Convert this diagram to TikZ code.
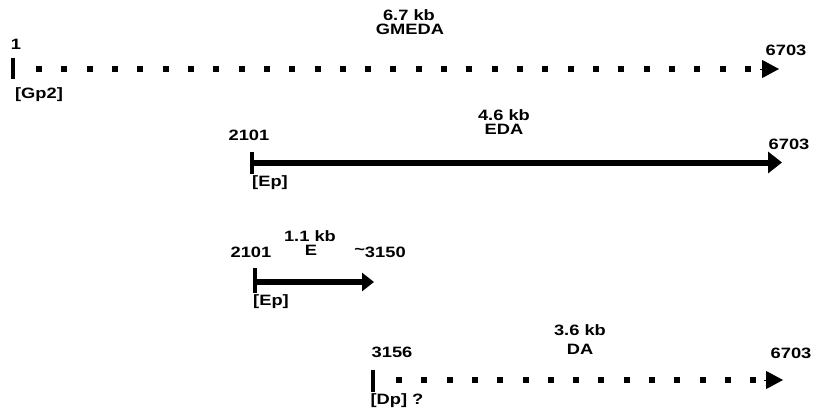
\documentclass[tikz,border=0pt]{standalone}
\usepackage{fontspec}
\setmainfont{Liberation Sans}[FakeStretch=1.22]
\usetikzlibrary{arrows.meta}
\begin{document}
\begin{tikzpicture}[x=1pt,y=-1pt,
  lbl/.style={font=\bfseries\fontsize{15}{16}\selectfont, inner sep=0pt},
  tickmark/.style={line width=3.5pt},
  solidline/.style={line width=6pt},
  dotmark/.style={fill=black},
  headtip/.style={-{Triangle[length=17pt,width=18pt]}, line width=1pt}
]
\useasboundingbox (0,0) rectangle (813,412);

% Row 1: GMEDA
\coordinate (r1s) at (13,69);
\coordinate (r1e) at (779,69);
\draw[tickmark] (13,58) -- (13,79);
\foreach \k in {0,...,28} {\fill[dotmark] ({39+25.32*\k-3},66) rectangle ++(6,6);}
\draw[headtip] (760,69) -- (r1e);
\node[lbl] (n1) at (16,44) {1};
\node[lbl] (gp2) at (39,95) {[Gp2]};
\node[lbl] (e1) at (786,50) {6703};
\node[lbl] (kb1) at (409,15) {6.7 kb};
\node[lbl] (nm1) at (410,29) {GMEDA};

% Row 2: EDA
\coordinate (r2s) at (252,162.5);
\coordinate (r2e) at (782,162.5);
\draw[tickmark] (252,152) -- (252,174);
\draw[solidline, -{Triangle[length=14pt,width=21pt]}] (r2s) -- (r2e);
\node[lbl] (s2) at (249,135) {2101};
\node[lbl] (ep2) at (270,183) {[Ep]};
\node[lbl] (e2) at (789,144) {6703};
\node[lbl] (kb2) at (504,115) {4.6 kb};
\node[lbl] (nm2) at (504,129) {EDA};

% Row 3: E
\coordinate (r3s) at (255,282);
\coordinate (r3e) at (374,282);
\draw[tickmark] (255,268) -- (255,293);
\draw[solidline, line width=5.5pt, -{Triangle[length=12pt,width=18pt]}] (r3s) -- (r3e);
\node[lbl] (s3) at (251,252) {2101};
\node[lbl] (kb3) at (310,236) {1.1 kb};
\node[lbl] (nm3) at (311,250) {E};
\node[lbl] (e3) at (380,252) {\raisebox{3pt}{\textasciitilde}3150};
\node[lbl] (ep3) at (271,302) {[Ep]};

% Row 4: DA
\coordinate (r4s) at (373,380);
\coordinate (r4e) at (783,380);
\draw[tickmark] (373,370) -- (373,392);
\foreach \k in {0,...,14} {\fill[dotmark] ({399+25.3*\k-3},377) rectangle ++(6,6);}
\draw[headtip] (764,380) -- (r4e);
\node[lbl] (s4) at (392,352) {3156};
\node[lbl] (dp) at (397,401) {[Dp] ?};
\node[lbl] (e4) at (791,353) {6703};
\node[lbl] (kb4) at (580,330) {3.6 kb};
\node[lbl] (nm4) at (580,349) {DA};
\end{tikzpicture}
\end{document}
